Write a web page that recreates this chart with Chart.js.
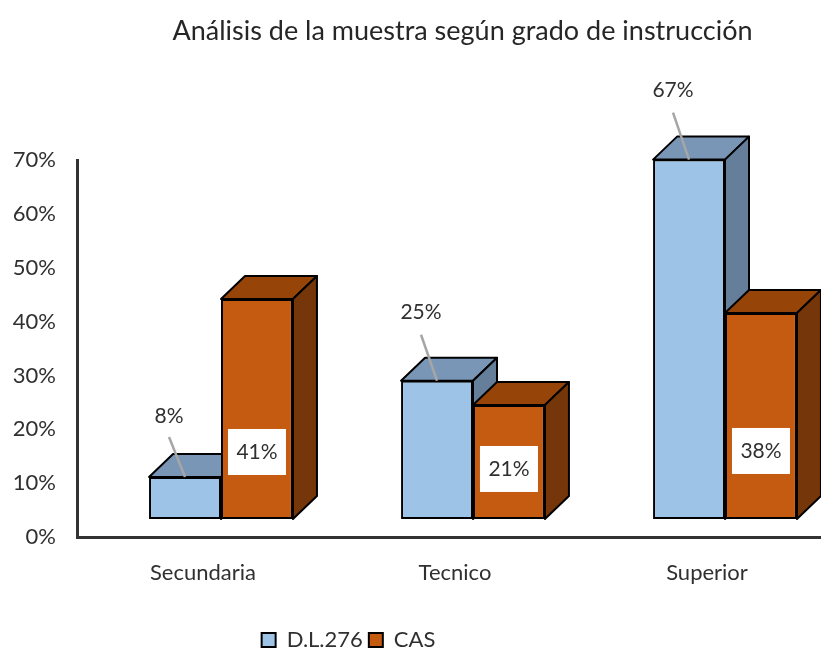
<!DOCTYPE html>
<html lang="es">
<head>
<meta charset="utf-8">
<style>
html,body{margin:0;padding:0;background:#fff;overflow:hidden;width:821px;height:650px}
canvas{display:block}
</style>
<script src="https://cdn.jsdelivr.net/npm/chart.js@4"></script>
</head>
<body>
<canvas id="c" width="833" height="650"></canvas>
<script>
const categories = ["Secundaria", "Tecnico", "Superior"];
const serieDL = [7.8, 25.7, 66.8];
const serieCAS = [40.9, 21.2, 38.3];
const labelsDL = ["8%", "25%", "67%"];
const labelsCAS = ["41%", "21%", "38%"];
const yTicks = [0, 10, 20, 30, 40, 50, 60, 70];
const titleText = "Análisis de la muestra según grado de instrucción";

const FONT = "Lato, Carlito, sans-serif";
const TEXT = "#303030";
const SHIFT = 18, DX = 24, DY = 23;
const faces = [
  {top: "#7A96B6", side: "#657E99"},
  {top: "#974409", side: "#753609"}
];
const dlLeaderGap = [40, 46, 47];
const dlTextGap = [61, 68, 69];
const casBoxShift = [43, 7, 35];

function drawBars3d(chart, index) {
  const c = chart.ctx, f = faces[index], meta = chart.getDatasetMeta(index);
  c.save();
  c.translate(SHIFT, -SHIFT);
  c.lineWidth = 2;
  c.strokeStyle = "#000";
  c.lineJoin = "round";
  meta.data.forEach(b => {
    const p = b.getProps(["x", "y", "base", "width"], true);
    const l = p.x - p.width / 2, r = p.x + p.width / 2;
    c.beginPath();
    c.moveTo(l, p.y); c.lineTo(l + DX, p.y - DY); c.lineTo(r + DX, p.y - DY); c.lineTo(r, p.y); c.closePath();
    c.fillStyle = f.top; c.fill(); c.stroke();
    c.beginPath();
    c.moveTo(r, p.y); c.lineTo(r + DX, p.y - DY); c.lineTo(r + DX, p.base - DY); c.lineTo(r, p.base); c.closePath();
    c.fillStyle = f.side; c.fill(); c.stroke();
  });
  meta.controller.draw();
  c.restore();
}

const bar3d = {
  id: "bar3d",
  afterLayout(chart) {
    const t = chart.titleBlock, l = chart.legend;
    t.left += 46; t.right += 46;
    l.left -= 68; l.right -= 68;
    l.top += 11; l.bottom += 11;
  },
  beforeDatasetsDraw(chart) {
    drawBars3d(chart, 0);
    drawBars3d(chart, 1);
  },
  beforeDatasetDraw() { return false; },
  afterDatasetsDraw(chart) {
    const c = chart.ctx;
    c.save();
    c.translate(SHIFT, -SHIFT);
    c.font = "21px " + FONT;
    c.textAlign = "center";
    c.textBaseline = "middle";
    chart.getDatasetMeta(0).data.forEach((b, i) => {
      const x = b.x, y = b.y;
      c.strokeStyle = "#A6A6A6";
      c.lineWidth = 2.5;
      c.beginPath();
      c.moveTo(x - 16, y - dlLeaderGap[i]);
      c.lineTo(x, y);
      c.stroke();
      c.fillStyle = TEXT;
      c.fillText(labelsDL[i], x - 16, y - dlTextGap[i]);
    });
    chart.getDatasetMeta(1).data.forEach((b, i) => {
      const x = b.x, y = (b.y + b.base) / 2 + casBoxShift[i];
      c.fillStyle = "#fff";
      c.fillRect(x - 29, y - 23, 58, 46);
      c.fillStyle = TEXT;
      c.fillText(labelsCAS[i], x, y);
    });
    c.restore();
  }
};

new Chart(document.getElementById("c"), {
  type: "bar",
  data: {
    labels: categories,
    datasets: [
      {label: "D.L.276", data: serieDL, backgroundColor: "#9DC3E6", borderColor: "#000", borderWidth: 2, borderSkipped: false},
      {label: "CAS", data: serieCAS, backgroundColor: "#C55A11", borderColor: "#000", borderWidth: 2, borderSkipped: false}
    ]
  },
  options: {
    responsive: false,
    animation: false,
    layout: {padding: 0},
    datasets: {bar: {categoryPercentage: 0.571, barPercentage: 1}},
    scales: {
      x: {
        grid: {display: false, drawTicks: false},
        border: {color: "#333", width: 3},
        ticks: {color: TEXT, font: {family: FONT, size: 22}, padding: 23, maxRotation: 0},
        afterFit(s) { s.height = 75; }
      },
      y: {
        min: 0, max: 70,
        afterBuildTicks(s) { s.ticks = yTicks.map(v => ({value: v})); },
        grid: {display: false, drawTicks: false},
        border: {color: "#333", width: 3},
        ticks: {color: TEXT, font: {family: FONT, size: 22}, padding: 21, callback: v => v + "%"},
        afterFit(s) { s.width = 77; }
      }
    },
    plugins: {
      tooltip: {enabled: false},
      title: {
        display: true, text: titleText, color: "#262626",
        font: {family: FONT, size: 27, weight: "normal"},
        padding: {top: 15, bottom: 113}
      },
      legend: {
        position: "bottom",
        labels: {color: TEXT, font: {family: FONT, size: 22}, boxWidth: 14, boxHeight: 14, padding: 6}
      }
    }
  },
  plugins: [bar3d]
});
</script>
</body>
</html>
